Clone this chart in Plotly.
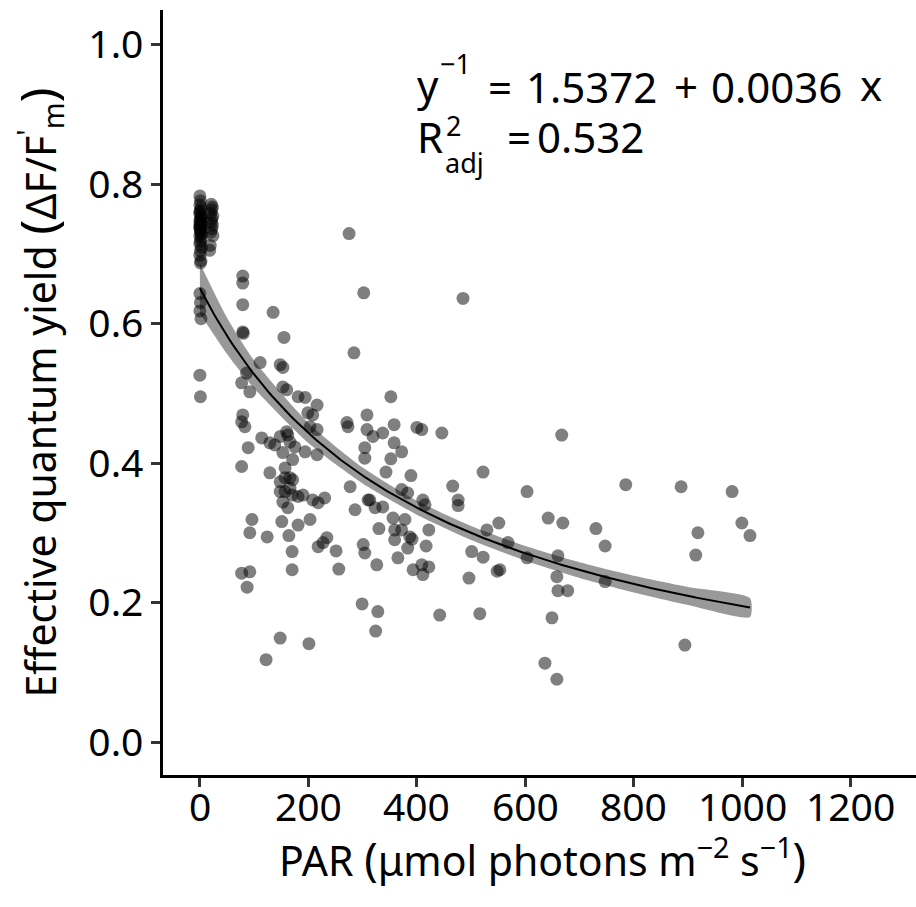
import numpy as np
import plotly.graph_objects as go

# ---------------- data ----------------
par = [
    # cluster at PAR ~ 0
    0, 1, 0, 2, 1, 0, 2, 1, 0, 3, 1, 0, 2, 1, 0, 2, 1, 0, 3, 1, 0, 2, 1, 0, 2, 1, 0, 3, 1, 0,
    0, 1, 0, 2, 0, 1,
    # cluster at PAR ~ 22
    21, 23, 22, 20, 24, 22, 21, 23, 22, 20, 24, 19, 18,
    # rest
    79, 79, 79, 79, 80, 135, 155, 284, 302, 275, 111, 148, 153, 86, 77, 92, 153, 160, 181, 194,
    216, 199, 208, 216, 79, 77, 83, 160, 148, 271, 273, 308, 308, 89, 114, 129, 138, 162, 166,
    153, 175, 171, 194, 216, 203, 77, 129, 157, 157, 166, 171, 148, 148, 157, 166, 170, 181,
    190, 208, 218, 230, 153, 162, 277, 286, 304, 304, 310, 96, 92, 124, 151, 181, 203, 164,
    170, 218, 227, 234, 251, 301, 304, 77, 92, 87, 170, 256, 299, 148, 201, 122,
    485, 352, 358, 400, 409, 446, 319, 337,
    352, 372, 358, 343, 389, 313, 323, 337, 372, 383, 411, 415, 356, 378, 330, 359, 372, 387,
    391, 359, 422, 466, 476, 476, 522, 551, 529, 568, 603, 603, 326, 365, 383, 417, 393, 409,
    411, 422, 501, 522, 496, 548, 328, 324, 442, 516,
    667, 785, 887, 981, 642, 669, 730, 747, 918, 999, 1014, 914, 660, 658, 660, 678, 747, 649,
    894, 636, 658, 553,
]
yield_ = [
    0.783, 0.776, 0.770, 0.766, 0.762, 0.758, 0.754, 0.750, 0.747, 0.744, 0.740, 0.737, 0.733,
    0.730, 0.726, 0.722, 0.718, 0.714, 0.709, 0.704, 0.698, 0.690, 0.687, 0.760, 0.752, 0.745,
    0.738, 0.728, 0.735, 0.742,
    0.643, 0.630, 0.618, 0.607, 0.526, 0.495,
    0.771, 0.767, 0.763, 0.758, 0.754, 0.750, 0.745, 0.741, 0.736, 0.731, 0.726, 0.712, 0.705,
    0.668, 0.658, 0.627, 0.588, 0.586, 0.616, 0.580, 0.558, 0.644, 0.729, 0.544, 0.541, 0.537,
    0.529, 0.515, 0.502, 0.509, 0.505, 0.495, 0.494,
    0.483, 0.472, 0.469, 0.448, 0.469, 0.459, 0.452, 0.445, 0.438, 0.458, 0.452, 0.469, 0.448,
    0.422, 0.436, 0.429, 0.426, 0.440, 0.430,
    0.415, 0.423, 0.405, 0.416, 0.412, 0.452, 0.395, 0.386, 0.393, 0.379, 0.379, 0.376, 0.373,
    0.359, 0.359, 0.364, 0.354, 0.352,
    0.354, 0.347, 0.343, 0.350, 0.344, 0.336, 0.366, 0.333, 0.422, 0.407, 0.347, 0.319, 0.300,
    0.294, 0.316, 0.311, 0.319, 0.296,
    0.273, 0.280, 0.286, 0.293, 0.274, 0.283, 0.271, 0.242, 0.244, 0.222, 0.247, 0.248, 0.198,
    0.149, 0.141, 0.118,
    0.636, 0.495, 0.455, 0.451, 0.448, 0.443, 0.438, 0.443,
    0.406, 0.416, 0.429, 0.387, 0.382, 0.347, 0.336, 0.337, 0.362, 0.357, 0.347, 0.340, 0.321,
    0.319, 0.306, 0.304, 0.304, 0.294,
    0.291, 0.290, 0.304, 0.367, 0.347, 0.339, 0.387, 0.314, 0.304, 0.286, 0.359, 0.264, 0.254,
    0.264, 0.278, 0.281, 0.247, 0.254,
    0.240, 0.251, 0.273, 0.265, 0.235, 0.245, 0.187, 0.159, 0.182, 0.184,
    0.440, 0.369, 0.366, 0.359, 0.321, 0.314, 0.306, 0.281, 0.300, 0.314, 0.296, 0.268, 0.267,
    0.237, 0.217, 0.217, 0.230, 0.178,
    0.139, 0.113, 0.090, 0.247,
]

# fitted model shown on the chart: 1/y = a + b*x
fit_a = 1.5372
fit_b = 0.0036
fit_xmax = 1014

# confidence band half-width (in yield units)
band_x = [0, 50, 100, 200, 300, 400, 500, 600, 700, 800, 900, 1014]
band_half = [0.036, 0.026, 0.020, 0.0145, 0.0115, 0.010, 0.010, 0.0105, 0.0112, 0.012, 0.013, 0.0136]

x_ticks = [0, 200, 400, 600, 800, 1000, 1200]
y_ticks = [0.0, 0.2, 0.4, 0.6, 0.8, 1.0]

x_title = ('PAR <span style="font-size:45px">(</span>μmol photons m<sup>−2</sup> '
           's<sup>−1</sup><span style="font-size:45px">)</span>')
y_title = ('Effective quantum yield <span style="font-size:50px">(</span>ΔF/F<sup>\'</sup>'
           '<sub>m</sub><span style="font-size:50px">)</span>')

# ---------------- figure ----------------
FONT = "Noto Sans"
fx = np.linspace(0, fit_xmax, 200)
fy = 1.0 / (fit_a + fit_b * fx)
bx = np.array(band_x, dtype=float)
bc = 1.0 / (fit_a + fit_b * bx)
bh = np.array(band_half)

fig = go.Figure()
fig.add_trace(go.Scatter(
    x=par, y=yield_, mode="markers",
    marker=dict(size=13, color="rgba(0,0,0,0.5)", line=dict(width=0)),
    hoverinfo="skip", showlegend=False))
fig.add_trace(go.Scatter(
    x=list(bx) + list(bx[::-1]), y=list(bc + bh) + list((bc - bh)[::-1]),
    mode="lines", line=dict(width=0, shape="spline", smoothing=0.6),
    fill="toself", fillcolor="rgba(0,0,0,0.4)", hoverinfo="skip", showlegend=False))
fig.add_trace(go.Scatter(
    x=fx, y=fy, mode="lines", line=dict(color="black", width=2),
    hoverinfo="skip", showlegend=False))

W, H = 916, 907
ML, MR, MT, MB = 163, 0, 10, 132
pw, ph = W - ML - MR, H - MT - MB


def px2paper(px, py):
    return (px - ML) / pw, (H - MB - py) / ph


annots = []


def add_text(text, px, py, size, height, anchor="left"):
    xp, yp = px2paper(px, py)
    annots.append(dict(text=text, x=xp, y=yp, xref="paper", yref="paper",
                       xanchor=anchor, yanchor="middle", showarrow=False,
                       height=height, valign="middle", borderpad=0,
                       font=dict(family=FONT, size=size, color="black")))


# x tick labels, positioned on the data scale of the x axis
_, ylab = px2paper(0, 805)
for v in x_ticks:
    annots.append(dict(text=str(v), x=v, y=ylab, xref="x", yref="paper",
                       xanchor="center", yanchor="middle", showarrow=False,
                       height=40, valign="middle", borderpad=0,
                       font=dict(family=FONT, size=39, color="black")))

# x axis title
add_text(x_title, 542, 858, 41, 58, anchor="center")

# equation, line 1
add_text("y", 416, 84, 42, 60)
add_text("−1", 439, 63, 27, 28)
add_text("=", 487, 86, 42, 44)
add_text("1.5372", 525, 86, 42, 44)
add_text("+", 673, 86, 42, 44)
add_text("0.0036", 710, 86, 42, 44)
add_text("x", 859, 84, 42, 44)
# equation, line 2
add_text("R", 416, 136, 42, 44)
add_text("2", 445, 125, 27, 26)
add_text("adj", 444, 162, 27, 40)
add_text("=", 506, 136, 42, 44)
add_text("0.532", 536, 136, 42, 44)

fig.update_layout(
    width=W, height=H,
    margin=dict(l=ML, r=MR, t=MT, b=MB, pad=0),
    paper_bgcolor="white", plot_bgcolor="white",
    font=dict(family=FONT, color="black"),
    annotations=annots,
    xaxis=dict(
        range=[-68, 1320], tickvals=x_ticks, showticklabels=False,
        showline=True, linecolor="black", linewidth=2.5, mirror=False,
        ticks="outside", ticklen=9, tickwidth=2.5, tickcolor="#333333",
        showgrid=False, zeroline=False,
    ),
    yaxis=dict(
        range=[-0.0473, 1.0495], tickvals=y_ticks, ticktext=[f"{v:.1f}" for v in y_ticks],
        showline=True, linecolor="black", linewidth=2.5, mirror=False,
        ticks="outside", ticklen=9, tickwidth=2.5, tickcolor="#333333",
        tickfont=dict(family=FONT, size=39, color="black"),
        showgrid=False, zeroline=False,
        title=dict(text=y_title, font=dict(family=FONT, size=41, color="black"), standoff=20),
    ),
)

fig.write_html("out.html")
